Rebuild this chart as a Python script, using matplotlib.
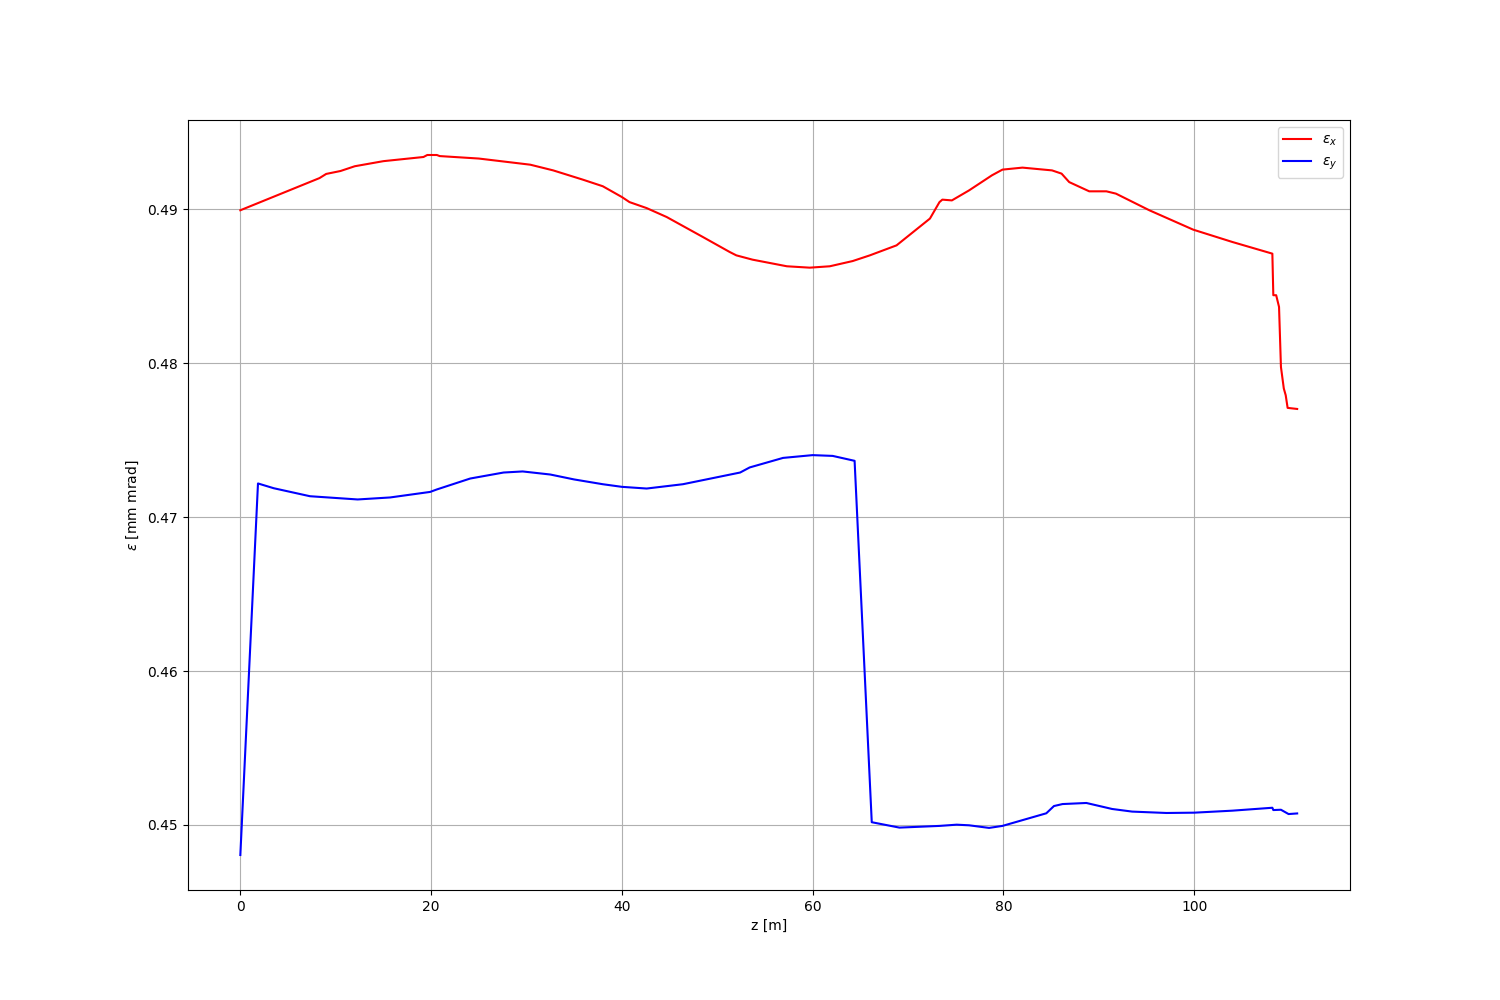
import numpy as np
from matplotlib import pyplot as plt

# emittance along the line
z_x = [0.0, 8.3, 9.0, 10.5, 12.0, 15.0, 19.2, 19.6, 20.6, 20.9, 25.0, 30.4,
       32.8, 35.9, 38.0, 40.0, 40.8, 42.6, 44.7, 48.5, 51.3, 52.0, 53.7,
       57.3, 59.7, 61.8, 64.2, 66.0, 68.8, 72.3, 73.3, 73.6, 74.6, 76.4,
       78.8, 79.9, 82.0, 85.1, 86.1, 86.9, 89.0, 90.8, 91.8, 95.3, 99.9,
       104.0, 108.2, 108.3, 108.6, 108.9, 109.1, 109.4, 109.6, 109.8, 110.8]
eps_x = [0.48994, 0.49203, 0.49230, 0.49249, 0.49280, 0.49313, 0.49340,
         0.49353, 0.49353, 0.49346, 0.49330, 0.49290, 0.49253, 0.49193,
         0.49150, 0.49080, 0.49047, 0.49008, 0.48950, 0.48820, 0.48723,
         0.48701, 0.48673, 0.48630, 0.48621, 0.48630, 0.48664, 0.48701,
         0.48766, 0.48940, 0.49047, 0.49063, 0.49058, 0.49123, 0.49221,
         0.49258, 0.49271, 0.49253, 0.49232, 0.49177, 0.49117, 0.49117,
         0.49102, 0.48994, 0.48868, 0.48788, 0.48712, 0.48442, 0.48442,
         0.48366, 0.47976, 0.47836, 0.47792, 0.47710, 0.47703]

z_y = [0.0, 1.85, 3.5, 7.3, 12.3, 15.7, 19.9, 20.6, 24.1, 27.6, 29.6, 32.5,
       35.0, 38.0, 40.0, 42.6, 46.4, 52.4, 53.4, 56.9, 60.0, 62.1, 64.4,
       66.2, 69.1, 73.3, 75.1, 76.4, 78.5, 79.9, 84.5, 85.3, 86.2, 88.7,
       91.4, 93.5, 97.1, 100.0, 104.0, 108.2, 108.3, 109.1, 109.9, 110.8]
eps_y = [0.44805, 0.47219, 0.47188, 0.47136, 0.47115, 0.47128, 0.47164,
         0.47180, 0.47251, 0.47290, 0.47297, 0.47277, 0.47245, 0.47214,
         0.47197, 0.47186, 0.47214, 0.47290, 0.47323, 0.47385, 0.47403,
         0.47398, 0.47366, 0.45018, 0.44983, 0.44994, 0.45002, 0.44998,
         0.44981, 0.44994, 0.45076, 0.45123, 0.45136, 0.45143, 0.45104,
         0.45087, 0.45078, 0.45080, 0.45093, 0.45112, 0.45097, 0.45099,
         0.45071, 0.45075]

fig, ax = plt.subplots(figsize=(15, 10), dpi=100)
ax.plot(z_x, eps_x, color='red', label=r'$\varepsilon_x$')
ax.plot(z_y, eps_y, color='blue', label=r'$\varepsilon_y$')

ax.set_xlabel('z [m]')
ax.set_ylabel(r'$\varepsilon$ [mm mrad]')
ax.legend(loc='upper right')
ax.grid(True)
plt.savefig('out.png')
